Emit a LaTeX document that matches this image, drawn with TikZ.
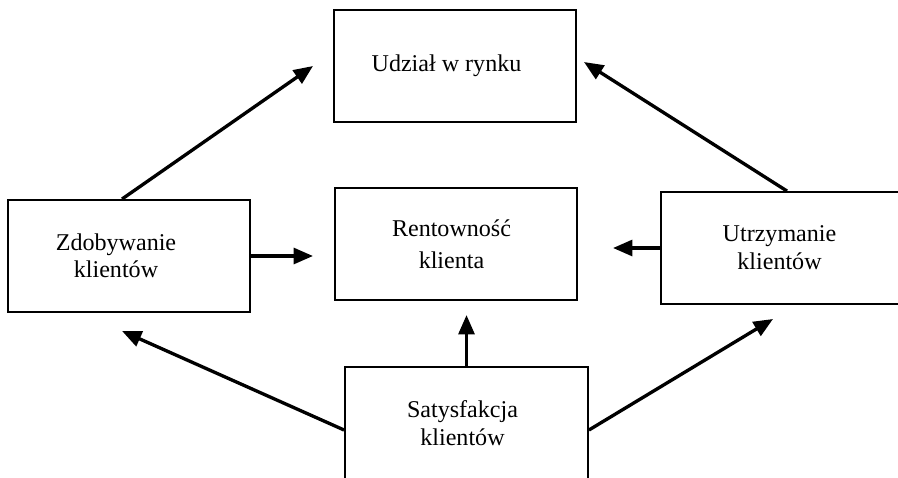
\documentclass[tikz,border=0pt]{standalone}
\usepackage{fontspec}
\setmainfont{Liberation Serif}
\usepackage{tikz}
\usetikzlibrary{arrows.meta,positioning}
\tikzset{
    >={Triangle[length=11pt,width=9pt]},
    every picture/.style={font=\fontsize{13.7}{15.9}\selectfont},
    factor/.style={draw=black, line width=1.1pt, align=center, inner sep=0pt, minimum height=2.24cm, minimum width=4.84cm},
    arrow/.style={->, line width=1.9pt, draw=black}
}
\begin{document}
\begin{tikzpicture}[x=0.02cm,y=-0.02cm]
\clip (0,0) rectangle (898,477);
% boxes
\node[factor] (udzial) at (455,66) {Udział w rynku\hspace*{0.34cm}};
\node[factor] (zdob) at (129,256) {Zdobywanie\hspace*{0.52cm}\\[-0.02cm]klientów\hspace*{0.52cm}};
\node[factor] (rent) at (456,244) {Rentowność\hspace*{0.18cm}\\[0.08cm]klienta\hspace*{0.18cm}};
\node[factor, minimum width=5.04cm] (utrz) at (787,248) {Utrzymanie\hspace*{0.3cm}\\klientów\hspace*{0.3cm}};
\node[factor, minimum width=4.86cm] (satys) at (466.5,423) {Satysfakcja\hspace*{0.16cm}\\klientów\hspace*{0.16cm}};
% arrow tips
\coordinate (tipA) at (313,66);
\coordinate (tipB) at (584,62);
\coordinate (tipC) at (313,256);
\coordinate (tipD) at (613,248);
\coordinate (tipE) at (466.5,315);
\coordinate (tipF) at (122,331);
\coordinate (tipG) at (773,319);
% connectors
\draw[arrow] ([xshift=-1.4mm]zdob.north) -- (tipA);
\draw[arrow] (utrz.north) -- (tipB);
\draw[arrow] (zdob.east) -- (tipC);
\draw[arrow] (utrz.west) -- (tipD);
\draw[arrow] (satys.north) -- (tipE);
\draw[arrow] ([yshift=-1.4mm]satys.west) -- (tipF);
\draw[arrow] ([yshift=-1.4mm]satys.east) -- (tipG);
\end{tikzpicture}
\end{document}
